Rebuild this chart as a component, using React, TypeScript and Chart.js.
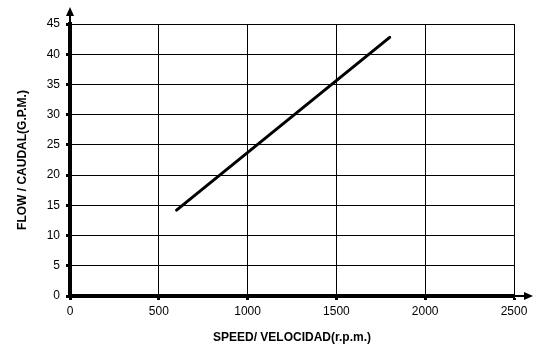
import React, { useEffect, useRef } from "react";
import { Chart, registerables } from "chart.js";

Chart.register(...registerables);

const speeds = [600, 1800];
const flows = [14.2, 42.8];
const xTitle = "SPEED/ VELOCIDAD(r.p.m.)";
const yTitle = "FLOW / CAUDAL(G.P.M.)";

const FONT = "'Liberation Sans', Arial, sans-serif";

const arrowPlugin = {
  id: "axisArrows",
  afterDraw(chart: any) {
    const { ctx, chartArea } = chart;
    const { left, right, top, bottom } = chartArea;
    ctx.save();
    ctx.fillStyle = "#000";
    ctx.strokeStyle = "#000";
    ctx.lineWidth = 2;
    // y axis extension + arrow
    ctx.beginPath();
    ctx.moveTo(left, top);
    ctx.lineTo(left, top - 9);
    ctx.stroke();
    ctx.beginPath();
    ctx.moveTo(left, top - 17);
    ctx.lineTo(left - 4, top - 8);
    ctx.lineTo(left + 4, top - 8);
    ctx.closePath();
    ctx.fill();
    // x axis extension + arrow
    ctx.beginPath();
    ctx.moveTo(right, bottom);
    ctx.lineTo(right + 11, bottom);
    ctx.stroke();
    ctx.beginPath();
    ctx.moveTo(right + 19, bottom);
    ctx.lineTo(right + 10, bottom - 4);
    ctx.lineTo(right + 10, bottom + 4);
    ctx.closePath();
    ctx.fill();
    ctx.restore();
  },
};

export default function App() {
  const ref = useRef<HTMLCanvasElement>(null);
  useEffect(() => {
    if (!ref.current) return;
    const chart = new Chart(ref.current, {
      type: "line",
      data: {
        datasets: [
          {
            data: speeds.map((s, i) => ({ x: s, y: flows[i] })),
            borderColor: "#000",
            borderWidth: 3,
            pointRadius: 0,
            borderCapStyle: "round",
            fill: false,
          },
        ],
      },
      options: {
        animation: false,
        responsive: true,
        maintainAspectRatio: false,
        layout: { padding: { top: 24, right: 29, left: 0, bottom: 0 } },
        plugins: { legend: { display: false }, tooltip: { enabled: false } },
        scales: {
          x: {
            type: "linear",
            min: 0,
            max: 2500,
            afterFit: (s: any) => {
              s.height = 58;
            },
            ticks: {
              stepSize: 500,
              color: "#000",
              padding: 4,
              font: { family: FONT, size: 12 },
              callback: (v: any) => String(v),
            },
            grid: {
              color: "#000",
              lineWidth: 1,
              tickLength: 4,
              tickWidth: 3,
              tickColor: "#000",
            },
            border: { display: true, color: "#000", width: 4 },
            title: {
              display: true,
              text: xTitle,
              color: "#000",
              font: { family: FONT, size: 12, weight: "bold" },
              padding: { top: 0, bottom: 9 },
            },
          },
          y: {
            type: "linear",
            min: 0,
            max: 45,
            afterFit: (s: any) => {
              s.width = 70;
            },
            ticks: {
              stepSize: 5,
              color: "#000",
              padding: 6,
              font: { family: FONT, size: 12 },
              callback: (v: any) => String(v),
            },
            grid: {
              color: "#000",
              lineWidth: 1,
              tickLength: 4,
              tickWidth: 3,
              tickColor: "#000",
            },
            border: { display: true, color: "#000", width: 4 },
            title: {
              display: true,
              text: yTitle,
              color: "#000",
              font: { family: FONT, size: 12, weight: "bold" },
              padding: { top: 15, bottom: 0 },
            },
          },
        },
      } as any,
      plugins: [arrowPlugin],
    });
    return () => chart.destroy();
  }, []);
  return (
    <div style={{ position: "absolute", left: 0, top: 0, width: 543, height: 354, background: "#fff" }}>
      <canvas ref={ref} />
    </div>
  );
}
